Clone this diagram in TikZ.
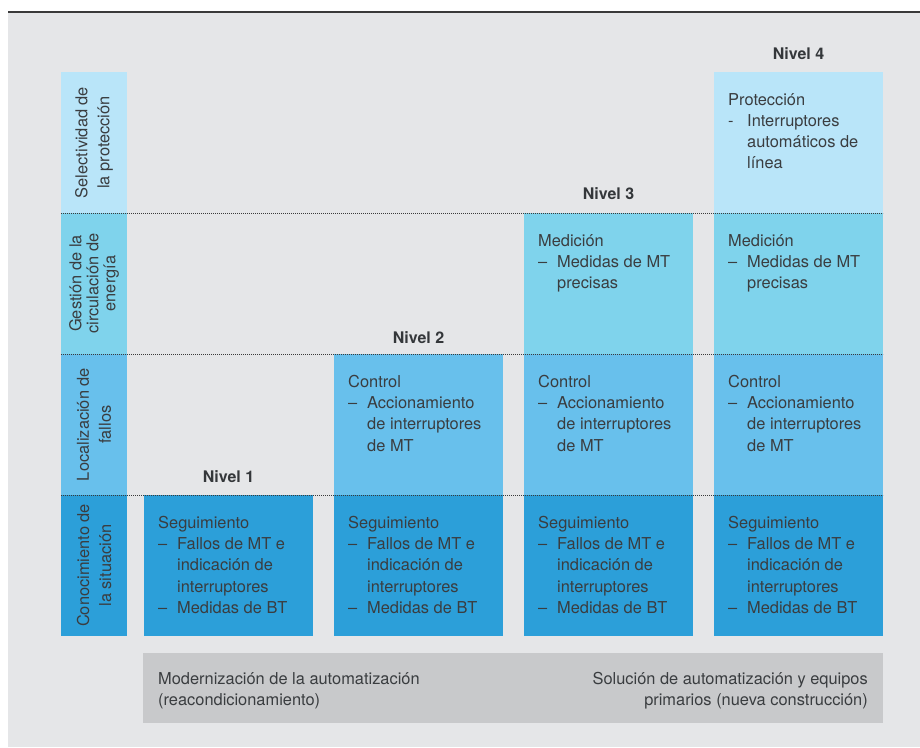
\documentclass[tikz,border=0pt]{standalone}
\usepackage{fontspec}
\setmainfont{TeX Gyre Heros}
\usetikzlibrary{calc}

\definecolor{panelbg}{HTML}{E5E6E8}
\definecolor{rowA}{HTML}{B9E5F9}
\definecolor{rowB}{HTML}{7FD3EC}
\definecolor{rowC}{HTML}{68C0EC}
\definecolor{rowD}{HTML}{2C9FD9}
\definecolor{barfill}{HTML}{C8C9CB}
\definecolor{ink}{HTML}{3A3D40}
\definecolor{rule}{HTML}{3A3A3A}

% bullet helpers for the lists inside the cells
\newcommand{\itemdash}{\makebox[19pt][l]{–}}
\newcommand{\itemhyph}{\makebox[19pt][l]{-}}
\newcommand{\itemcont}{\hspace*{19pt}}

\tikzset{
  cell/.style={draw=none, inner sep=0pt, outer sep=0pt, anchor=north west,
               minimum width=169pt, minimum height=141pt},
  sidecell/.style={cell, minimum width=66pt},
  % first line gets a fixed 13pt height so the top edge sits 13pt above its baseline
  celltext/.style={inner sep=0pt, anchor=north west, align=left, text=ink,
               font=\fontsize{16.4}{21.25}\selectfont,
               execute at begin node={\rule{0pt}{13pt}}},
  sidetext/.style={inner sep=0pt, rotate=90, align=center, text=ink,
               font=\fontsize{16.4}{22}\selectfont},
  nivel/.style={inner sep=0pt, anchor=base, text=ink!90!black,
               font=\fontsize{16}{19}\selectfont\bfseries},
  sep/.style={draw=rule, line width=0.8pt, dash pattern=on 0.8pt off 1.2pt},
}

\begin{document}
\begin{tikzpicture}[x=1pt, y=-1pt]
  \useasboundingbox (0,0) rectangle (920,747);
  % panel background and top rule
  \fill[panelbg] (8,12) rectangle (920,747);
  \draw[rule, line width=1.5pt] (8,12) -- (920,12);

  % left heading column
  \node[sidecell, fill=rowA] (s1) at (61,72)  {};
  \node[sidecell, fill=rowB] (s2) at (61,213) {};
  \node[sidecell, fill=rowC] (s3) at (61,354) {};
  \node[sidecell, fill=rowD] (s4) at (61,495) {};

  % level columns
  \node[cell, fill=rowD] (c1d) at (144,495) {};

  \node[cell, fill=rowC] (c2c) at (334,354) {};
  \node[cell, fill=rowD] (c2d) at (334,495) {};

  \node[cell, fill=rowB] (c3b) at (524,213) {};
  \node[cell, fill=rowC] (c3c) at (524,354) {};
  \node[cell, fill=rowD] (c3d) at (524,495) {};

  \node[cell, fill=rowA] (c4a) at (714,72)  {};
  \node[cell, fill=rowB] (c4b) at (714,213) {};
  \node[cell, fill=rowC] (c4c) at (714,354) {};
  \node[cell, fill=rowD] (c4d) at (714,495) {};

  % dotted row separators
  \draw[sep] (s1.south west) -- (c4a.south east);
  \draw[sep] (s2.south west) -- (c4b.south east);
  \draw[sep] (s3.south west) -- (c4c.south east);

  % row headings
  \node[sidetext] (h1) at (s1.center) {Selectividad de\\la protección};
  \node[sidetext, font=\fontsize{16.4}{17}\selectfont] (h2) at (s2.center) {Gestión de la\\circulación de\\energía};
  \node[sidetext] (h3) at (s3.center) {Localización de\\fallos};
  \node[sidetext] (h4) at (s4.center) {Conocimiento de\\la situación};

  % level titles
  \node[nivel] (n1) at ($(c1d.north)+(0,-13)$) {Nivel 1};
  \node[nivel] (n2) at ($(c2c.north)+(0,-11)$) {Nivel 2};
  \node[nivel] (n3) at ($(c3b.north)+(0,-14)$) {Nivel 3};
  \node[nivel] (n4) at ($(c4a.north)+(0,-13)$) {Nivel 4};

  % cell contents
  \foreach \c in {c1d,c2d,c3d,c4d}{
    \node[celltext] (t-\c) at ($(\c.north west)+(14,21)$)
      {Seguimiento\\\itemdash Fallos de MT e\\\itemcont indicación de\\\itemcont interruptores\\\itemdash Medidas de BT};
  }
  \foreach \c in {c2c,c3c,c4c}{
    \node[celltext] (t-\c) at ($(\c.north west)+(14,21)$)
      {Control\\\itemdash Accionamiento\\\itemcont de interruptores\\\itemcont de MT};
  }
  \foreach \c in {c3b,c4b}{
    \node[celltext] (t-\c) at ($(\c.north west)+(14,21)$)
      {Medición\\\itemdash Medidas de MT\\\itemcont precisas};
  }
  \node[celltext] (t-c4a) at ($(c4a.north west)+(14,21)$)
    {Protección\\\itemhyph Interruptores\\\itemcont automáticos de\\\itemcont línea};

  % bottom bar
  \node[cell, fill=barfill, minimum width=740pt, minimum height=70pt] (bar) at (143,653) {};
  \node[celltext] (barl) at ($(bar.north west)+(15,19)$)
    {Modernización de la automatización\\(reacondicionamiento)};
  \node[celltext, anchor=north east, align=right] (barr) at ($(bar.north east)+(-15,19)$)
    {Solución de automatización y equipos\\primarios (nueva construcción)};
\end{tikzpicture}
\end{document}
